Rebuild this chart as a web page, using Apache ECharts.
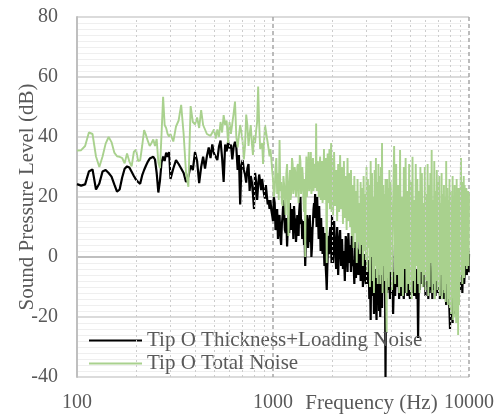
<!DOCTYPE html>
<html>
<head>
<meta charset="utf-8">
<title>Sound Pressure Level</title>
<script src="https://cdn.jsdelivr.net/npm/echarts@6/dist/echarts.min.js"></script>
<style>
	html, body { margin: 0; padding: 0; background: #fff; }
	#spl_chart_content { width: 500px; height: 418px; }
</style>
</head>
<body>
<div id="spl_chart_content"></div>
<script>
// frequency sampling of the spectra: [start, end, step] in Hz
var freq_segments = [[100, 295, 5], [300, 990, 10], [1000, 1990, 10], [2000, 3975, 25], [4000, 10000, 50]];
var x_ticks = [100, 1000, 10000];
var y_ticks = [-40, -20, 0, 20, 40, 60, 80];
var minor_freqs = [200, 300, 400, 500, 600, 700, 800, 900, 2000, 3000, 4000, 5000, 6000, 7000, 8000, 9000];
var series_names = ["Tip O Thickness+Loading Noise", "Tip O Total Noise"];

// Tip O Thickness+Loading Noise (dB), one value per sampled frequency
var loading_noise = [
	// 100 - 295 Hz
	24.3,23.8,24.2,28.5,29.2,22.5,24.5,28.5,29.0,28.0,26.8,24.2,21.8,22.5,26.5,29.4,30.2,29.8,28.4,27.0,
	25.8,25.0,24.4,27.2,29.0,30.5,31.8,32.8,33.2,33.4,32.5,28.0,21.5,25.5,31.5,33.5,32.0,34.8,33.4,35.0,
	// 300 - 990 Hz
	26.0,29.5,32.3,31.0,29.5,28.0,25.0,26.8,30.5,29.0,
	35.0,32.0,24.6,30.0,33.4,29.5,33.6,36.5,33.0,37.5,
	34.5,35.1,32.3,36.8,38.8,33.0,25.0,37.5,35.2,38.4,
	36.2,37.5,32.5,36.8,38.4,36.5,29.0,34.0,17.5,30.6,
	32.3,29.0,27.5,24.8,29.5,31.0,22.0,27.0,25.0,21.0,
	16.0,28.0,25.0,19.0,24.0,27.5,25.0,22.3,26.0,23.4,
	21.0,19.5,24.0,20.5,17.5,19.0,16.0,19.0,15.7,14.0,
	// 1000 - 1990 Hz
	12,20,18,9,11,16,6,12,14,7,
	4,11,14,19,15,9,8,13,3.5,10,
	14,8,18,12,9,16,14,6,17,13,
	12,5,8.5,14,11,7,15,18,20,11,
	12.5,6,8,12,4,7,-3,5,8,14,
	12,3,6,10,14,5,10,0,3,9,
	12,16,18,13,21,15,16,10,20,14,
	12,6,17,11,9,2,13,7,5,1,
	10,4,2,-3,8,1,-4,-7,-11,-5,
	0,6,7,1,2,8,10,3,4,-2,
	// 2000 - 3975 Hz
	14,-2,12,3,-4,10,-6,5,9,-3,6,-4,2,-8,7,4,-5,8,-2,4,
	-5,7,-3,-1,-9,5,-7,3,2,-6,-2,6,-8,-2,4,-10,-3,1,-7,-9,
	3,-9,-4,-1,-14,-6,-21,2,-6,-13,-4,-19,-8,-4,-15,-21,-2,-12,-6,-18,
	-6,-20,-3,-10,-17,0,2,-9,-12,-4,-40,-6,-8,-12,0,-7,-11,-3,-14,-5,
	// 4000 - 10000 Hz
	-12,4,-19,-5,-13,2,-10,-1,-14,-4,
	-13,0,-11,-14,3,-12,-5,-13,1,-11,
	-14,-2,-12,2,-10,-13,-3,-11,-14,-4,
	-27,-5,-11,3,-9,-1,-6,2,-10,-3,
	-13,-2,-10,1,-14,-4,-12,0,-11,-5,
	-14,-3,-11,2,-9,-13,-2,-8,-3,-12,
	-12,-1,-14,-4,-10,1,-13,-7,-14,-2,
	-14,-3,-12,-16,0,-11,-15,-5,-13,-18,
	-24,-8,-20,-3,-14,-22,-6,-12,-19,-4,
	-12,-2,-14,-5,-11,-13,-3,-12,-8,-10,
	-11,0,-9,-7,2,-12,-4,-8,1,-9,
	-6,3,-5,-2,4,-6,0,-4,2,-5,1
];

// Tip O Total Noise (dB)
var total_noise = [
	// 100 - 295 Hz
	35.5,35.6,37.0,41.5,41.0,33.5,30.0,33.5,37.8,40.0,38.3,34.8,33.6,33.4,33.0,31.2,34.5,31.8,30.2,35.0,
	35.8,32.0,32.2,37.0,42.3,40.6,38.6,37.0,38.0,39.2,37.0,39.3,31.5,29.6,41.0,53.4,44.0,43.0,41.0,40.2,
	// 300 - 990 Hz
	41.0,38.5,43.5,45.5,50.7,41.0,28.0,23.4,50.3,45.0,
	44.2,46.5,43.0,49.0,44.0,43.8,41.0,41.5,40.4,40.5,
	42.5,39.5,42.5,40.0,45.0,41.5,47.3,44.0,45.5,38.0,
	45.0,41.0,44.5,48.0,51.8,40.0,36.5,40.5,44.0,41.5,
	38.5,32.5,37.0,47.5,44.0,37.0,41.0,44.0,38.0,34.0,
	40.5,38.0,42.0,45.0,56.8,44.5,36.0,37.0,38.0,31.0,
	38.0,44.0,42.0,40.0,38.0,36.0,33.5,36.0,33.0,29.0,
	// 1000 - 1990 Hz
	26,20,22,30,33,21,28,19,39,22,
	25,18,17,27,24,19,14,28,31,20,
	7,24,29,19,22,33,31,21,23,30,
	28,20,23,30,31,18,24,34,32,21,
	24,30,27,19,15,26,0,23,33.5,20,
	25,30,35,22,24,29,35,21,23,31,
	33,22,25,30,31,23,44.5,22,26,32,
	30,20,24,31,33.5,19,22,30,32,18,
	21,27,36,19,22,29,33,17,-2,25,
	34.5,18,21,30,36,16,22,33,38,15,
	// 2000 - 3975 Hz
	33,14,35,17,29,12,31,15,34,16,30,11,32,13,27,9,33,12,28,10,
	29,7,24,3,27,8,22,-2,26,5,18,1,25,4,23,-3,27,2,21,-1,
	30,-5,26,3,24,-10,32,0,28,-8,20,-12,29,-3,33,-7,25,-9,31,-4,
	27,-9,30,-6,38,-12,24,-3,21,-8,26,-10,-25,26,-7,23,-10,29,-5,25,
	// 4000 - 10000 Hz
	22,-11,18,37,-9,31,-6,24,-12,35.7,
	-10,20,-13,30,-4,33,-12,22,-9,31,
	-11,25,-14,33.4,-8,19,-12,31,-3,26,
	-9,22,-12,30,-5,28,-10,18,-6,30,
	-11,21,-8,31,-13,24,-10,28,-2,35.7,
	-12,19,-9,32,-14,22,-8,29,-11,25,
	-10,27,-13,18,-6,28,-14,21,-11,24,
	-12,20,-15,32,-9,23,-16,19,-14,26,
	-17,22,-19,17,-12,27,-21,20,-18,24,
	-20,18,-22,26,-15,21,-26,23,-16,19,
	-8,22,33,-6,25,-9,18,-4,27,-7,
	24,-3,20,-2,23,-4,17,-1,22,-3,21
];

var font_family = "'Liberation Serif', 'DejaVu Serif', serif";
var text_color = "#595959";

//生成频率采样点
function build_freqs(){
	var freqs = [];
	for(var s = 0; s < freq_segments.length; s++){
		var seg = freq_segments[s];
		for(var f = seg[0]; f <= seg[1]; f += seg[2]){
			freqs.push(f);
		}
	}
	return freqs;
}

function pair_data(freqs, values){
	var out = [];
	for(var i = 0; i < values.length; i++){
		out.push([freqs[i], values[i]]);
	}
	return out;
}

//加载图表
function load_spl_chart(){
	var freqs = build_freqs();
	var chart = echarts.init(document.getElementById("spl_chart_content"), null, {renderer: "canvas"});
	var option = {
		animation: false,
		backgroundColor: "#ffffff",
		grid: { left: 77, right: 31, top: 17, bottom: 41, outerBoundsMode: "none" },
		legend: {
			orient: "vertical",
			left: 84,
			top: 325,
			icon: "rect",
			itemWidth: 53,
			itemHeight: 2,
			itemGap: 2,
			data: series_names,
			textStyle: { fontFamily: font_family, fontSize: 21, color: text_color }
		},
		xAxis: {
			type: "log",
			logBase: 10,
			min: x_ticks[0],
			max: x_ticks[x_ticks.length - 1],
			name: "Frequency (Hz)",
			nameLocation: "middle",
			nameGap: 16,
			nameMoveOverlap: false,
			nameTextStyle: { fontFamily: font_family, fontSize: 21, color: text_color, padding: [0, 0, 0, 197] },
			axisLine: { show: true, lineStyle: { color: "#bfbfbf", width: 2 } },
			axisTick: { show: false },
			axisLabel: {
				margin: 16,
				fontFamily: font_family,
				fontSize: 20,
				color: text_color,
				formatter: function(v){ return String(Math.round(v)); }
			},
			splitLine: { show: true, lineStyle: { color: "#a6a6a6", width: 1.5, type: [4, 3] } }
		},
		yAxis: {
			type: "value",
			min: y_ticks[0],
			max: y_ticks[y_ticks.length - 1],
			interval: 20,
			name: "Sound Pressure Level (dB)",
			nameLocation: "middle",
			nameGap: 39,
			nameMoveOverlap: false,
			nameTextStyle: { fontFamily: font_family, fontSize: 21, color: text_color },
			axisLine: { show: true, lineStyle: { color: "#bfbfbf", width: 2 } },
			axisTick: { show: false },
			axisLabel: { margin: 19, fontFamily: font_family, fontSize: 20, color: text_color },
			splitLine: { show: true, lineStyle: { color: "#cfcfcf", width: 1.5 } },
			minorTick: { show: false, splitNumber: 10 },
			minorSplitLine: { show: true, lineStyle: { color: "#efefef", width: 1 } }
		},
		series: [
			{
				// 次网格线 (dotted verticals at 200..900, 2000..9000)
				type: "line",
				data: [],
				silent: true,
				z: 1,
				markLine: {
					silent: true,
					animation: false,
					symbol: ["none", "none"],
					label: { show: false },
					lineStyle: { color: "#cccccc", width: 1, type: [2, 3] },
					data: minor_freqs.map(function(f){ return { xAxis: f }; })
				}
			},
			{
				name: series_names[0],
				type: "line",
				symbol: "none",
				z: 3,
				lineStyle: { color: "#000000", width: 2.2 },
				itemStyle: { color: "#000000" },
				data: pair_data(freqs, loading_noise)
			},
			{
				name: series_names[1],
				type: "line",
				symbol: "none",
				z: 4,
				lineStyle: { color: "#a9d18e", width: 1.9 },
				itemStyle: { color: "#a9d18e" },
				data: pair_data(freqs, total_noise)
			}
		]
	};
	chart.setOption(option, true);
}
load_spl_chart();
</script>
</body>
</html>
